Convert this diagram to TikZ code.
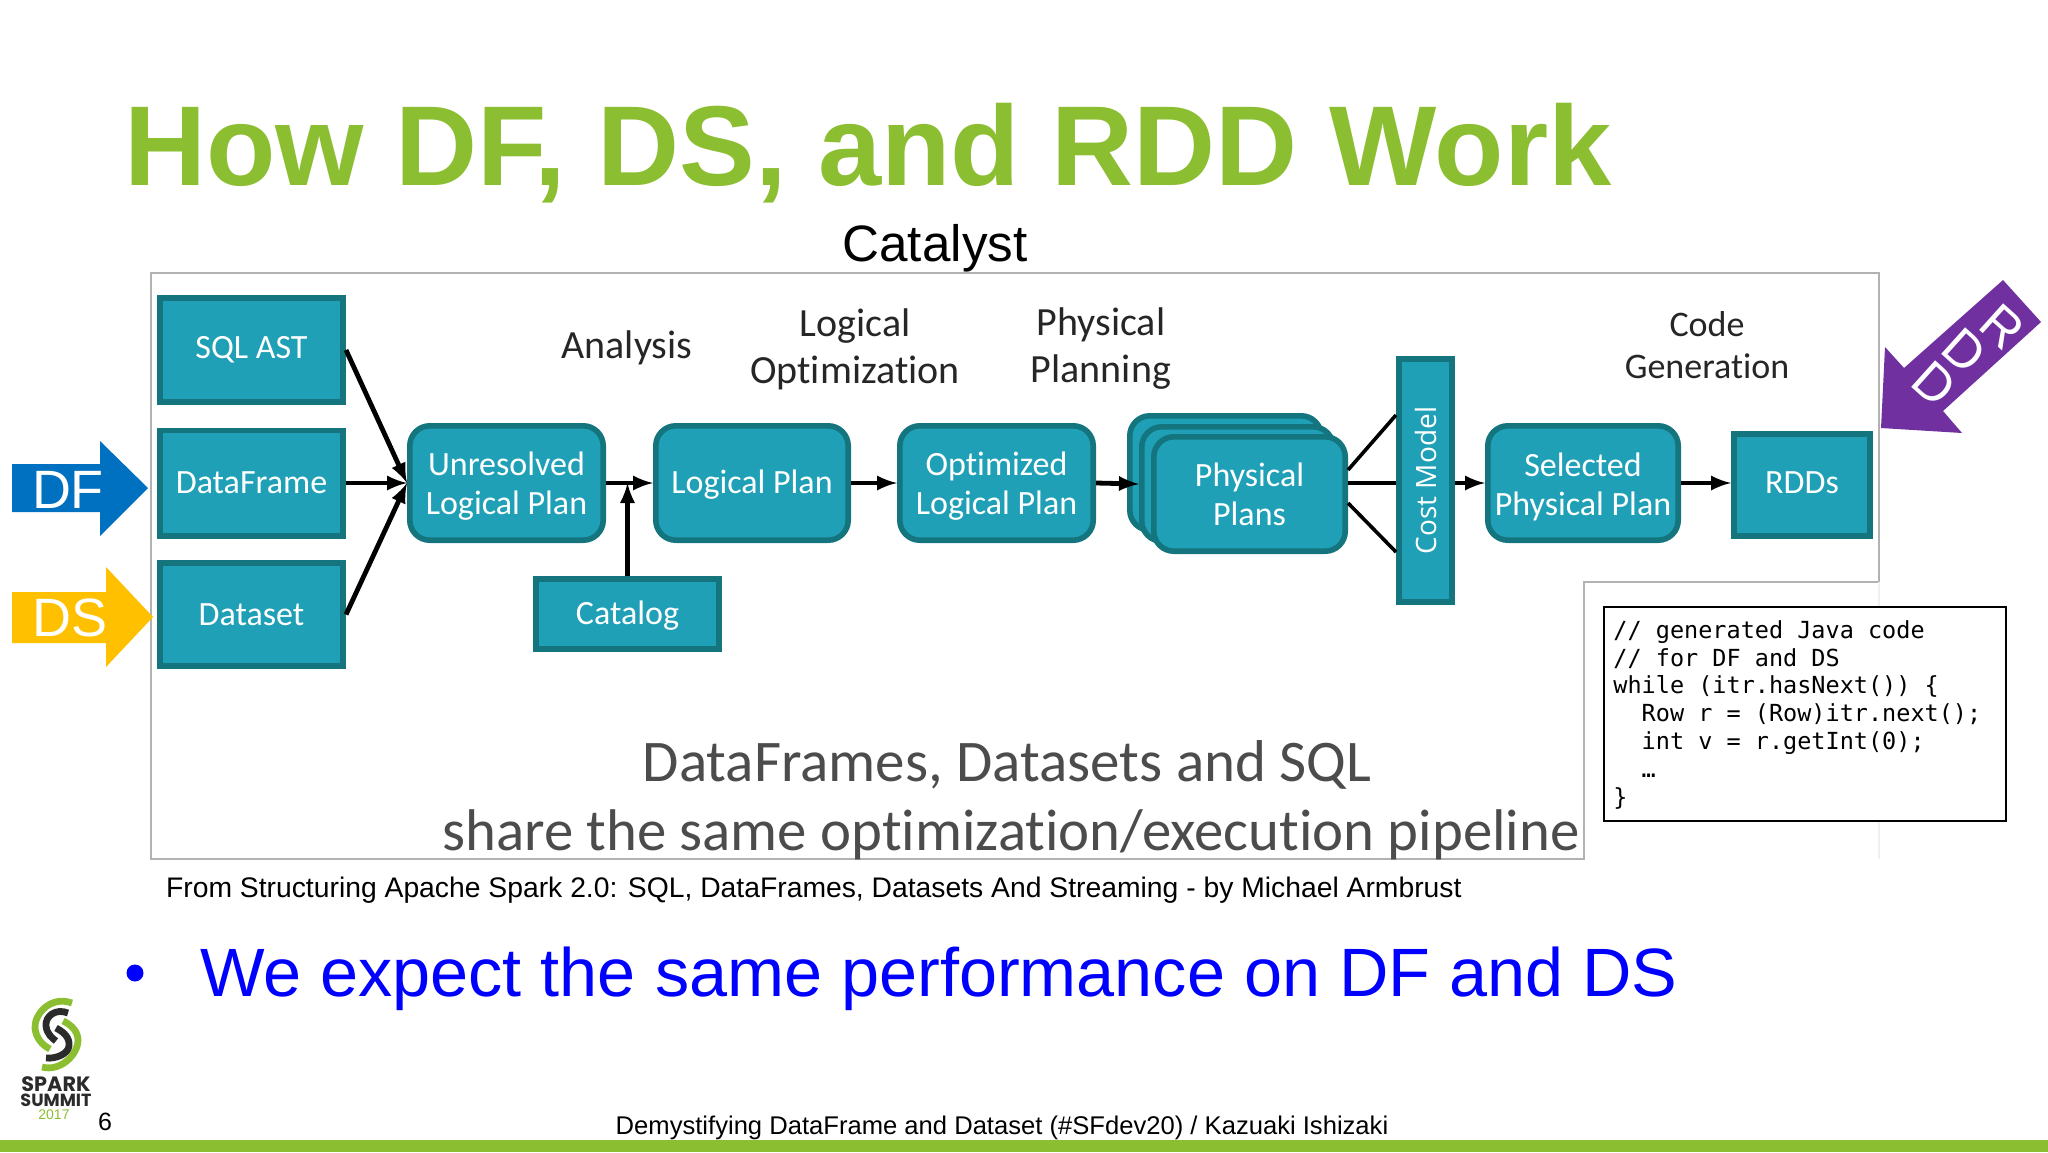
\documentclass[tikz,border=0pt]{standalone}
\usepackage{fontspec}
\setmainfont{Liberation Sans}
\newfontfamily\boxfont[Ligatures=NoCommon]{Carlito}
\newfontfamily\costfont{Open Sans}
\newfontfamily\codefont{DejaVu Sans Mono}
\newfontfamily\logofont{Poppins}

\definecolor{sparkgreen}{HTML}{8CBE32}
\definecolor{boxfill}{HTML}{1FA0B6}
\definecolor{boxedge}{HTML}{14757F}
\definecolor{dfblue}{HTML}{0070C0}
\definecolor{dsyellow}{HTML}{FFC000}
\definecolor{rddpurple}{HTML}{7030A0}
\definecolor{logodark}{HTML}{2B2B2B}

\newcommand{\pxfont}[2]{\fontsize{#1}{#2}\selectfont}
\newcommand{\liftone}{\rule{0pt}{15.4pt}}
\newcommand{\lifthalf}{\rule{0pt}{13.4pt}}

\tikzset{
    flatbox/.style 2 args={draw=boxedge, fill=boxfill, line width=2.8pt, inner sep=0pt,
        minimum width={(#1-5.6)*0.5pt}, minimum height={(#2-5.6)*0.5pt},
        text=white, align=center, font=\boxfont\pxfont{17}{19.5}},
    roundbox/.style 2 args={flatbox={#1}{#2}, rounded corners=10pt},
    flow/.style={line width=2.4pt, -latex},
    feed/.style={line width=2.4pt},
    phase/.style={align=center, text=black!85, font=\boxfont\pxfont{20}{23.5}},
    bigline/.style={text=black!70, font=\boxfont\pxfont{29.5}{32}},
    logostroke/.style={line width=3.4pt},
    logotext/.style={text=logodark, inner sep=0pt}
}

\begin{document}
\begin{tikzpicture}[x=0.5pt, y=-0.5pt]
    \useasboundingbox (0, 0) rectangle (2048, 1152);

    \node[anchor=base west, text=sparkgreen, font=\bfseries\pxfont{56.8}{62}] (title) at (117, 185) {How DF, DS, and RDD Work};
    \node[font=\pxfont{25.6}{30}] (catalyst) at (935, 248) {Catalyst};

    % frame round the slide picture
    \draw[black!30, line width=1.2pt] (151, 273) -- (1879, 273) -- (1879, 582) -- (1584, 582) -- (1584, 859) -- (151, 859) -- cycle;
    \draw[black!6, line width=1pt] (1879, 582) -- (1879, 859);

    \fill[dfblue] (12, 464) -- (100, 464) -- (100, 441) -- (148, 488) -- (100, 536) -- (100, 512) -- (12, 512) -- cycle;
    \node[text=white, font=\pxfont{27}{30}] (dflabel) at (68, 490) {DF};
    \fill[dsyellow] (12, 592) -- (106, 592) -- (106, 567) -- (153, 617) -- (106, 667) -- (106, 643) -- (12, 643) -- cycle;
    \node[text=white, font=\pxfont{27}{30}] (dslabel) at (70, 618) {DS};
    \fill[rddpurple] (2003, 280) -- (2041, 322) -- (1943, 411) -- (1962, 433) -- (1881, 428) -- (1885, 347) -- (1904, 368) -- cycle;
    \node[text=white, rotate=-42, align=center, inner sep=0pt, font=\pxfont{26}{22}] (rddlabel) at (1964, 351) {\hspace{12pt}R\\D\\D};

    \node[flatbox={189}{110}] (sqlast) at (251.5, 350) {SQL AST};
    \node[flatbox={189}{111}] (dataframe) at (251.5, 483) {DataFrame};
    \node[flatbox={189}{109}] (dataset) at (251.5, 614.5) {Dataset};
    \node[roundbox={199}{120}] (unresolved) at (506.5, 483) {\liftone Unresolved\\Logical Plan};
    \node[roundbox={198}{120}] (logical) at (752, 483) {\lifthalf Logical Plan};
    \node[roundbox={199}{120}] (optimized) at (996.5, 483) {\liftone Optimized\\Logical Plan};
    \node[flatbox={189}{76}] (catalog) at (627.5, 614) {\lifthalf Catalog};

    \node[roundbox={197}{120}] (plansback) at (1225.5, 473) {};
    \node[roundbox={197}{120}] (plansmid) at (1237.5, 484) {};
    \node[roundbox={197}{120}] (plans) at (1249.5, 494) {Physical\\Plans};

    \node[flatbox={59}{249}, font=\costfont\pxfont{14}{16}] (cost) at (1425.5, 480.5) {\rotatebox{90}{Cost Model}};
    \node[roundbox={196}{120}] (selected) at (1583, 483) {\liftone Selected\\Physical Plan};
    \node[flatbox={142}{108}] (rdds) at (1802, 485) {RDDs\rule[-2pt]{0pt}{2pt}};

    \node[phase] (analysis) at (627, 348) {Analysis};
    \node[phase] (logopt) at (855, 349) {Logical\\Optimization};
    \node[phase] (physplan) at (1101, 349) {Physical\\Planning};
    \node[phase, font=\boxfont\pxfont{18}{21}] (codegen) at (1707, 345) {Code\\Generation};

    \draw[flow] (sqlast.east) -- (unresolved.west);
    \draw[flow] (dataset.east) -- (unresolved.west);
    \draw[flow] (dataframe.east) -- (unresolved.west);
    \draw[flow] (unresolved.east) -- (logical.west);
    \draw[flow] (catalog.north) -- (catalog.north |- unresolved.east);
    \draw[flow] (logical.east) -- (optimized.west);
    \draw[flow] (optimized.east) -- (plansmid.west);

    \coordinate (plansup) at (1348, 470);
    \coordinate (plansdown) at (1348, 503);
    \coordinate (costup) at (1396, 415);
    \coordinate (costdown) at (1396, 552);
    \draw[feed, line width=1.8pt] (plansup) -- (costup);
    \draw[feed, line width=1.8pt] (plansdown) -- (costdown);
    \draw[feed] (plans.east |- selected.west) -- (cost.west |- selected.west);
    \draw[flow] (cost.east |- selected.west) -- (selected.west);
    \draw[flow] (selected.east) -- (rdds.west |- selected.east);

    \node[bigline] (bigone) at (1007, 765) {DataFrames, Datasets and SQL};
    \node[bigline, font=\boxfont\pxfont{29.4}{32}] (bigtwo) at (1011, 835) {share the same optimization/execution pipeline};

    \node[draw=black, fill=white, line width=1.2pt, anchor=north west, inner sep=0pt,
        minimum width=201pt, minimum height=107pt] (codebox) at (1603, 606) {};
    \node[anchor=north west, align=left, inner sep=0pt, font=\codefont\pxfont{11.75}{13.9}] (code) at (1613, 620)
        {// generated Java code\\
         // for DF and DS\\
         while (itr.hasNext()) \{\\
         \ \ Row r = (Row)itr.next();\\
         \ \ int v = r.getInt(0);\\
         \ \ …\\
         \}};

    \node[anchor=base west, font=\pxfont{14.15}{16}] (credit) at (159, 897) {From Structuring Apache Spark 2.0: SQL, DataFrames, Datasets And Streaming - by Michael Armbrust};

    \fill[blue] (135, 973) circle (8.5);
    \node[anchor=base west, text=blue, font=\pxfont{34.2}{40}] (expect) at (193, 996) {We expect the same performance on DF and DS};

    % logo
    \draw[sparkgreen, logostroke] (72, 1003) .. controls (50, 995) and (34, 1015) .. (35, 1028) .. controls (36, 1038) and (42, 1045) .. (50, 1049);
    \draw[sparkgreen, logostroke] (42, 1067) .. controls (60, 1072) and (78, 1055) .. (78, 1040) .. controls (78, 1032) and (72, 1025) .. (63, 1021);
    \draw[logodark, logostroke] (68, 1013) .. controls (56, 1008) and (45, 1016) .. (46, 1026) .. controls (47, 1034) and (52, 1038) .. (56, 1041);
    \draw[logodark, logostroke] (56, 1028) .. controls (64, 1032) and (70, 1038) .. (69, 1046) .. controls (68, 1054) and (56, 1059) .. (46, 1058);
    \node[logotext, font=\logofont\bfseries\pxfont{10.4}{11}] (spark) at (56, 1084) {SPARK};
    \node[logotext, font=\logofont\bfseries\pxfont{8.8}{10}] (summit) at (56, 1100) {SUMMIT};
    \node[text=sparkgreen, inner sep=0pt, font=\pxfont{7}{8}] (year) at (54, 1115) {2017};

    \node[font=\pxfont{12.5}{14}] (pagenum) at (105, 1122) {6};
    \node[font=\pxfont{12.8}{15}] (footer) at (1002, 1128) {Demystifying DataFrame and Dataset (\#SFdev20) / Kazuaki Ishizaki};
    \fill[sparkgreen] (0, 1140) rectangle (2048, 1152);
\end{tikzpicture}
\end{document}
